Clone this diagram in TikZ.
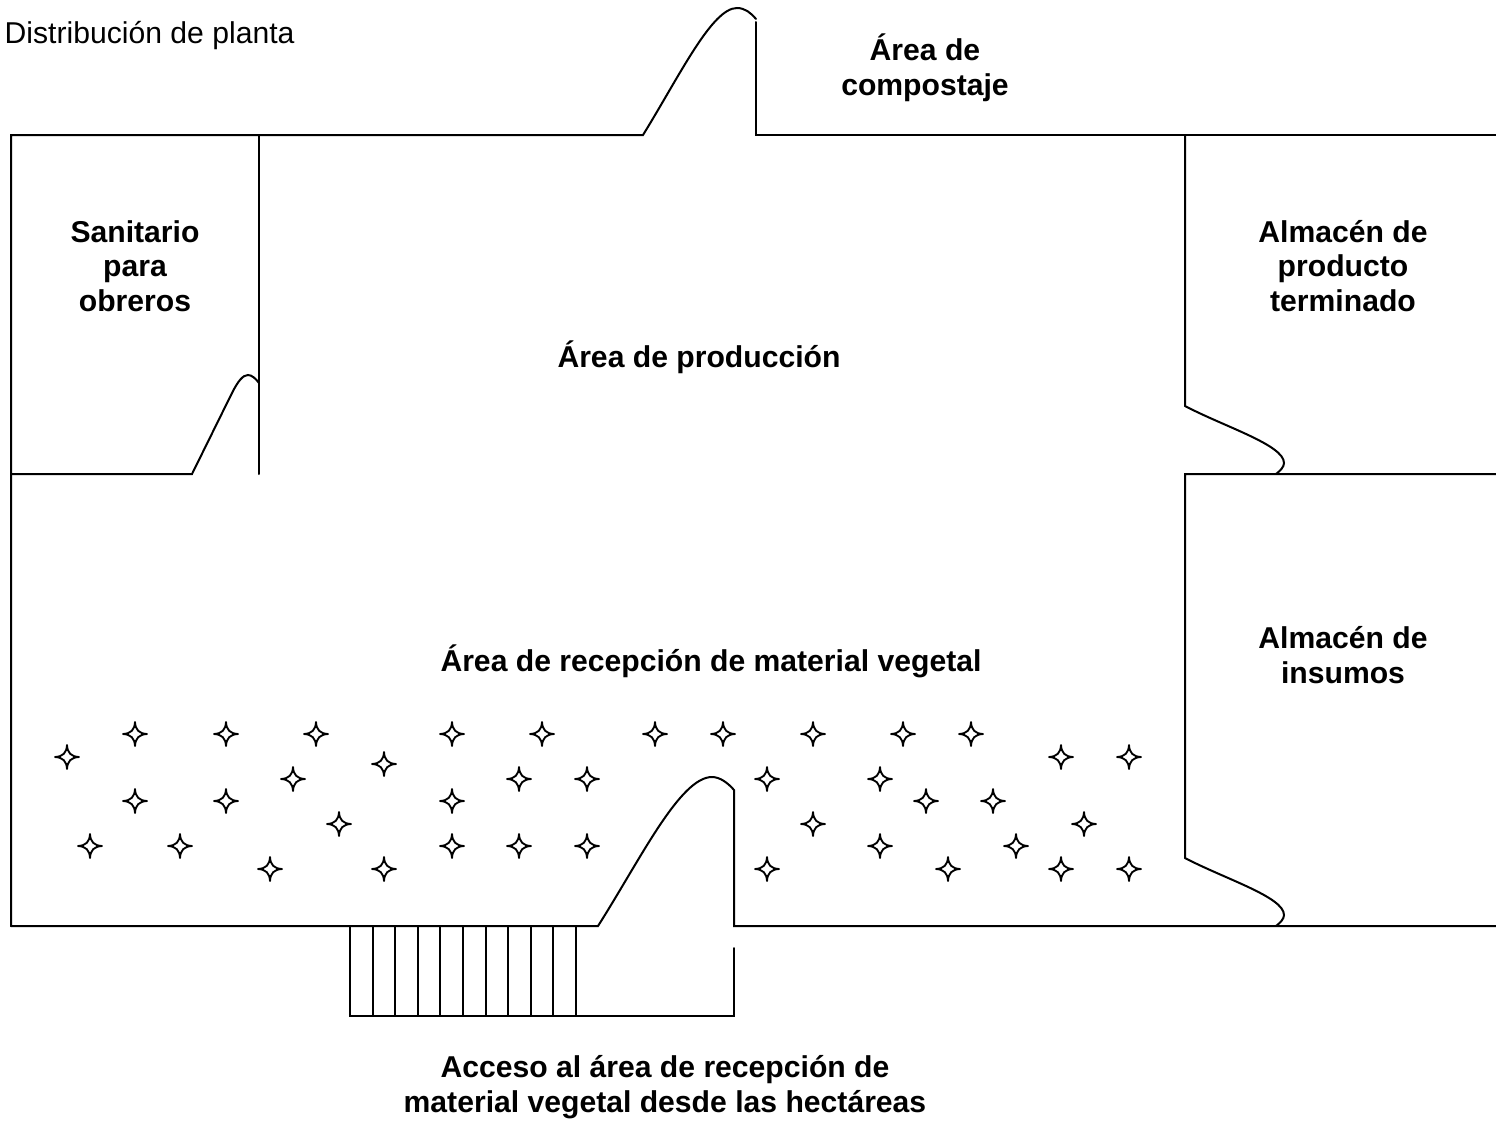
\documentclass[tikz,border=0pt]{standalone}
\usepackage{fontspec}
\setmainfont{Liberation Sans}
\tikzset{
x=0.75pt, % one unit is one pixel of the plan
y=-0.75pt,
wall/.style={line width=1.5pt, line cap=round}, % walls and door curves
stepline/.style={line width=1.1pt},
label/.style={font=\fontsize{22.6}{25.9}\selectfont\bfseries, align=center},
title/.style={font=\fontsize{22.6}{25.9}\selectfont, anchor=west},
sparkle/.pic={
\draw[line width=1.4pt, line join=round] (0,-12) .. controls (0.5,-4) and (4,-0.5) .. (12,0)
.. controls (4,0.5) and (0.5,4) .. (0,12)
.. controls (-0.5,4) and (-4,0.5) .. (-12,0)
.. controls (-4,-0.5) and (-0.5,-4) .. (0,-12) -- cycle;
},
}
\begin{document}
\begin{tikzpicture}
        \useasboundingbox (0,0) rectangle (1496,1121);

        \node[title] (planta) at (0,36) {Distribución de planta};
        \node[label] (compostaje) at (925,68) {Área de\\compostaje};
        \node[label] (sanitario) at (135,266) {Sanitario\\para\\obreros};
        \node[label] (terminado) at (1343,266) {Almacén de\\producto\\terminado};
        \node[label] (produccion) at (699,357) {Área de producción};
        \node[label] (insumos) at (1343,655) {Almacén de\\insumos};
        \node[label] (recepcion) at (711,661) {Área de recepción de material vegetal};
        \node[label] (acceso) at (665,1087) {Acceso al área de recepción de\\material vegetal desde las hectáreas};

        % top wall with door to the composting area
        \draw[wall] (11,926) -- (11,135) -- (643,135)
              .. controls (680,75) and (712,8) .. (737,8)
              .. controls (745,8) and (751,13) .. (756,19);
        \draw[wall] (756,22) -- (756,135) -- (1496,135);

        % sanitary room
        \draw[wall] (259,135) -- (259,474);
        \draw[wall] (11,474) -- (192,474) -- (232,393)
              .. controls (238,381) and (243,375) .. (248,375)
              .. controls (252,375) and (256,379) .. (259,383);

        % storage rooms
        \draw[wall] (1185,135) -- (1185,406)
              .. controls (1225,427) and (1284,445) .. (1284,463)
              .. controls (1284,467) and (1280,471) .. (1276,474);
        \draw[wall] (1496,474) -- (1185,474) -- (1185,858)
              .. controls (1225,879) and (1284,897) .. (1284,915)
              .. controls (1284,919) and (1280,923) .. (1276,926);

        % bottom wall with door and access
        \draw[wall] (11,926) -- (598,926)
              .. controls (640,860) and (680,777) .. (712,777)
              .. controls (720,777) and (728,783) .. (734,790) -- (734,926) -- (1496,926);
        \draw[wall] (350,926) -- (350,1016) -- (734,1016) -- (734,948);
        \foreach \x in {373,395,418,440,463,486,508,531,553,576}
            \draw[stepline] (\x,926) -- (\x,1016);

        % plants
        \foreach \x/\y in {67/757,135/734,226/734,316/734,384/764,293/779,452/734,542/734,
            655/734,723/734,813/734,903/734,971/734,1061/757,1129/757,
            135/801,226/801,519/779,587/779,452/801,767/779,880/779,926/801,993/801,
            90/846,180/846,339/824,452/846,519/846,587/846,270/869,384/869,
            767/869,813/824,880/846,948/869,1016/846,1084/824,1061/869,1129/869}
            \pic at (\x,\y) {sparkle};
    \end{tikzpicture}
\end{document}
